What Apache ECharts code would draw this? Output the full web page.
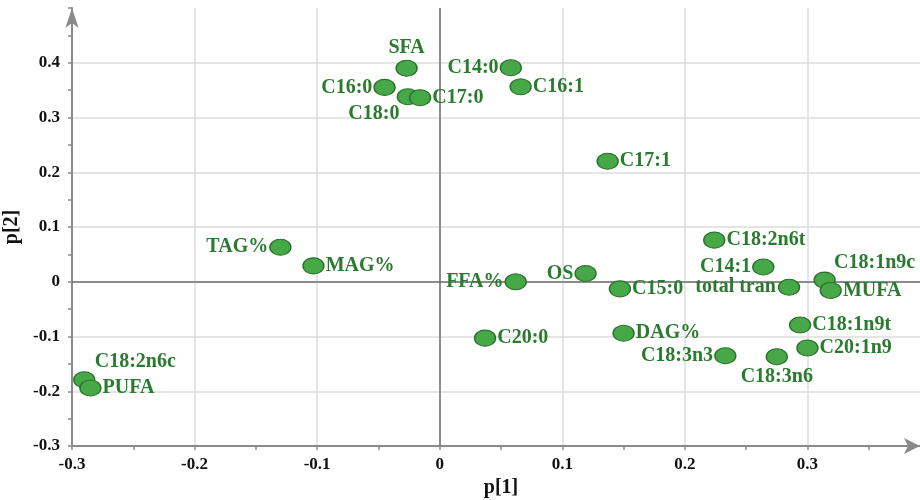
<!DOCTYPE html>
<html>
<head>
<meta charset="utf-8">
<script src="https://cdn.jsdelivr.net/npm/echarts@6/dist/echarts.min.js"></script>
<style>
  html, body { margin: 0; padding: 0; background: #fff; }
  #chart { width: 920px; height: 500px; }
</style>
</head>
<body>
<div id="chart"></div>
<script>
// Loading plot: variable names with their p[1] / p[2] loadings
const variables = [
  'SFA', 'C16:0', 'C18:0', 'C17:0', 'C14:0', 'C16:1', 'C17:1', 'C18:2n6t',
  'TAG%', 'MAG%', 'C18:2n6c', 'PUFA', 'FFA%', 'OS', 'C15:0', 'C14:1',
  'total tran', 'C18:1n9c', 'MUFA', 'C18:1n9t', 'C20:0', 'DAG%', 'C20:1n9',
  'C18:3n3', 'C18:3n6'
];
const p1 = [
  -0.027, -0.045, -0.026, -0.016, 0.058, 0.066, 0.137, 0.224,
  -0.130, -0.103, -0.290, -0.285, 0.062, 0.119, 0.147, 0.264,
  0.285, 0.314, 0.319, 0.294, 0.037, 0.150, 0.300,
  0.233, 0.275
];
const p2 = [
  0.390, 0.355, 0.338, 0.336, 0.391, 0.356, 0.220, 0.076,
  0.063, 0.029, -0.179, -0.194, 0.000, 0.015, -0.013, 0.027,
  -0.010, 0.003, -0.016, -0.079, -0.103, -0.094, -0.121,
  -0.135, -0.137
];
const xTicks = [-0.3, -0.2, -0.1, 0, 0.1, 0.2, 0.3];
const yTicks = [-0.3, -0.2, -0.1, 0, 0.1, 0.2, 0.3, 0.4];

// Where each name sits relative to its marker: [position, dx, dy, distance]
const labelPlacement = {
  'SFA': ['top', 0, 0, 2],
  'C16:0': ['left', 0, 0, 1],
  'C18:0': ['bottom', -34, 0, -1],
  'C17:0': ['right', 0, 0, 1],
  'C14:0': ['left', 0, 0, 1],
  'C16:1': ['right', 0, 0, 1],
  'C17:1': ['right', 0, 0, 1],
  'C18:2n6t': ['right', 0, 0, 1],
  'TAG%': ['left', 0, 0, 1],
  'MAG%': ['right', 0, 0, 1],
  'C18:2n6c': ['top', 51, 0, -1],
  'PUFA': ['right', 0, 0, 1],
  'FFA%': ['left', 0, 0, 1],
  'OS': ['left', 0, 0, 1],
  'C15:0': ['right', 0, 0, 1],
  'C14:1': ['left', 0, 0, 1],
  'total tran': ['left', 0, 0, 2],
  'C18:1n9c': ['top', 50, 0, -1],
  'MUFA': ['right', 0, 0, 1],
  'C18:1n9t': ['right', 0, 0, 1],
  'C20:0': ['right', 0, 0, 1],
  'DAG%': ['right', 0, 0, 1],
  'C20:1n9': ['right', 0, 0, 1],
  'C18:3n3': ['left', 0, 0, 1],
  'C18:3n6': ['bottom', 0, 0, 2]
};

const serif = '"Liberation Serif", "Times New Roman", serif';
const labelGreen = '#2a7b2f';

const points = variables.map((name, i) => {
  const pl = labelPlacement[name];
  return {
    name: name,
    value: [p1[i], p2[i]],
    label: { position: pl[0], offset: [pl[1], pl[2]], distance: pl[3] }
  };
});

const fmt = v => {
  const hit = xTicks.concat(yTicks).some(t => Math.abs(t - v) < 1e-9);
  if (!hit) return '';
  return Math.abs(v) < 1e-9 ? '0' : String(Math.round(v * 10) / 10);
};

const axisGrey = '#8a8a8a';

const chart = echarts.init(document.getElementById('chart'), null, { renderer: 'canvas' });
chart.setOption({
  animation: false,
  backgroundColor: '#ffffff',
  grid: { left: 72, right: -10, top: 8, bottom: 54, containLabel: false, outerBoundsMode: 'none' },
  xAxis: {
    type: 'value',
    min: -0.3, max: 0.4, interval: 0.1,
    name: 'p[1]', nameLocation: 'middle', nameGap: 30,
    nameTextStyle: { fontFamily: serif, fontWeight: 'bold', fontSize: 20, color: '#111' },
    axisLine: {
      show: true, onZero: false,
      lineStyle: { color: axisGrey, width: 2 },
      symbol: ['none', 'arrow'], symbolSize: [12, 16], symbolOffset: [0, -10]
    },
    axisTick: { show: true, inside: false, length: 4, lineStyle: { color: axisGrey, width: 1.5 } },
    minorTick: { show: true, splitNumber: 2, length: 4, lineStyle: { color: axisGrey, width: 1.5 } },
    axisLabel: {
      margin: 10, formatter: fmt, showMaxLabel: false,
      fontFamily: serif, fontWeight: 'bold', fontSize: 17, color: '#111'
    },
    splitLine: { show: true, showMinLine: false, showMaxLine: false, lineStyle: { color: '#dcdcdc', width: 1.5 } }
  },
  yAxis: {
    type: 'value',
    min: -0.3, max: 0.5, interval: 0.1,
    name: 'p[2]', nameLocation: 'middle', nameGap: 47, nameRotate: 90,
    nameTextStyle: { fontFamily: serif, fontWeight: 'bold', fontSize: 20, color: '#111' },
    axisLine: {
      show: true, onZero: false,
      lineStyle: { color: axisGrey, width: 2 },
      symbol: ['none', 'arrow'], symbolSize: [10, 20], symbolOffset: [0, 0]
    },
    axisTick: { show: true, inside: false, length: 4, lineStyle: { color: axisGrey, width: 1.5 } },
    minorTick: { show: true, splitNumber: 2, length: 4, lineStyle: { color: axisGrey, width: 1.5 } },
    axisLabel: {
      margin: 12, formatter: fmt, showMaxLabel: false,
      fontFamily: serif, fontWeight: 'bold', fontSize: 17, color: '#111'
    },
    splitLine: { show: true, showMinLine: false, showMaxLine: false, lineStyle: { color: '#dcdcdc', width: 1.5 } }
  },
  series: [{
    type: 'scatter',
    symbol: 'circle',
    symbolSize: [21, 16],
    itemStyle: { color: '#46a846', borderColor: '#2a6f2d', borderWidth: 1.2, opacity: 1 },
    label: {
      show: true,
      formatter: '{b}',
      fontFamily: serif, fontWeight: 'bold', fontSize: 20, color: labelGreen
    },
    data: points,
    markLine: {
      silent: true,
      symbol: ['none', 'none'],
      label: { show: false },
      lineStyle: { color: '#6e6e6e', width: 1.5, type: 'solid' },
      data: [{ xAxis: 0 }, { yAxis: 0 }],
      z: 1
    },
    z: 3
  }]
});
</script>
</body>
</html>
